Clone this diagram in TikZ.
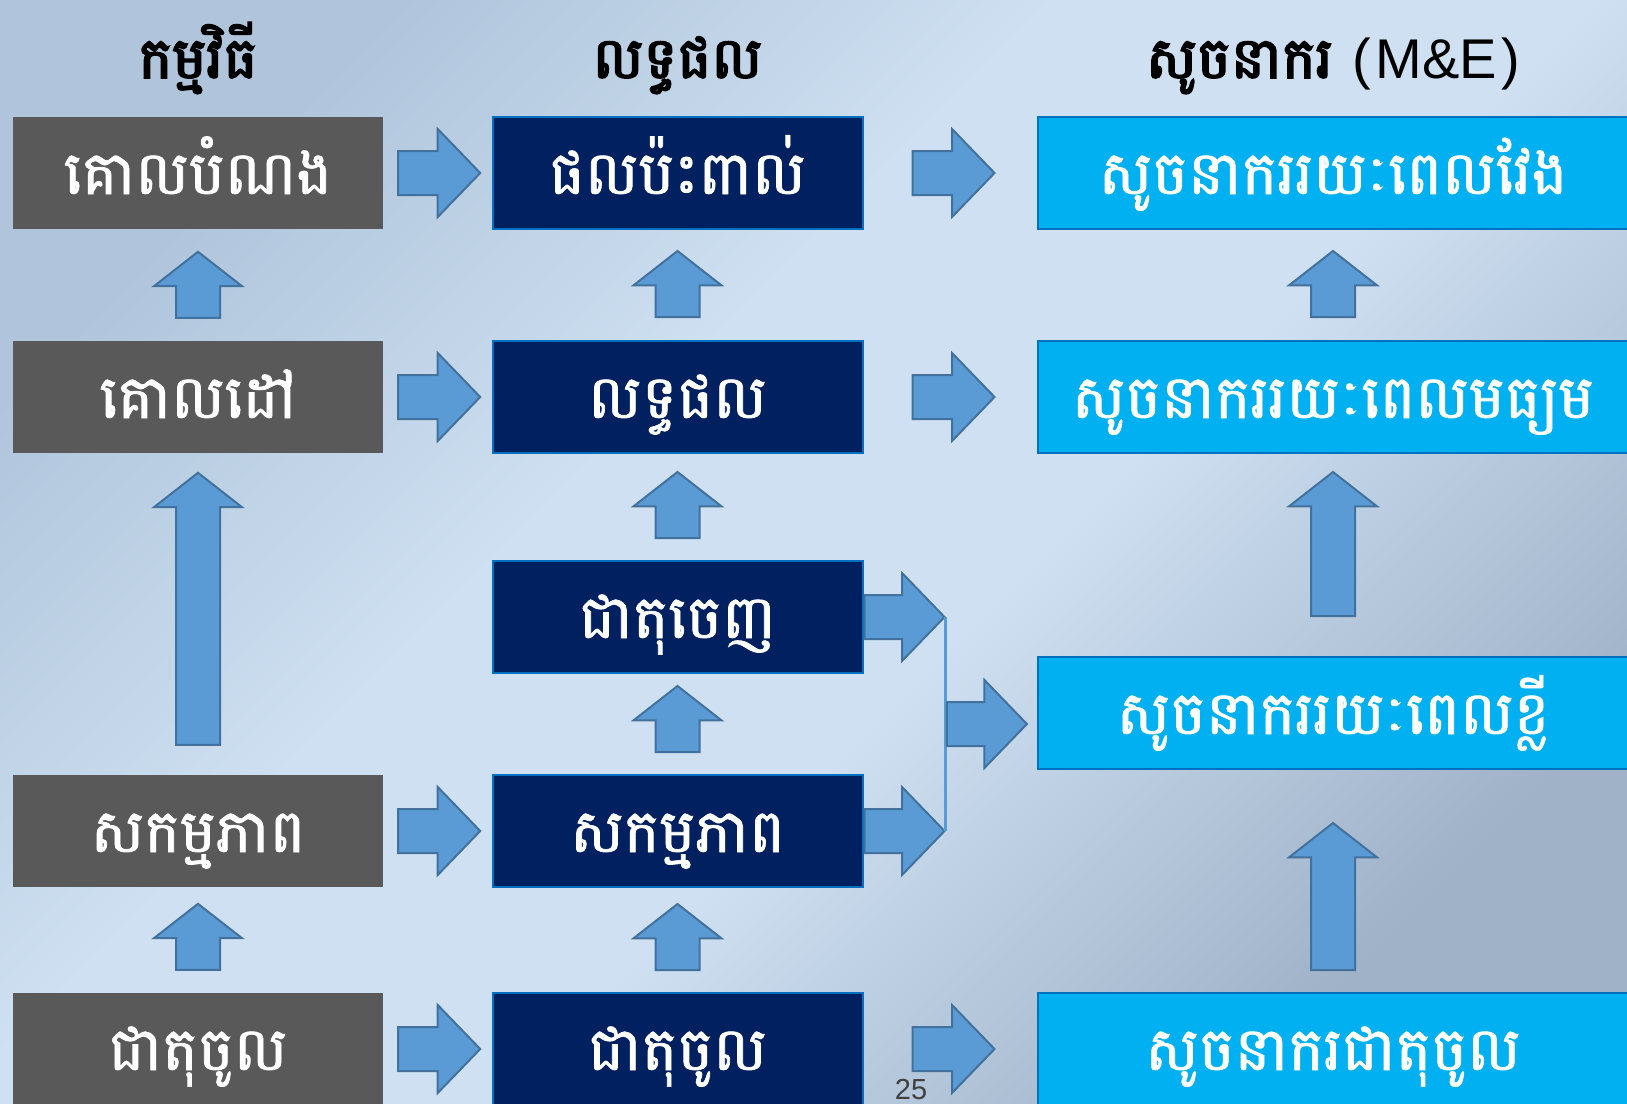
\documentclass[tikz,border=0pt]{standalone}
\usepackage{fontspec}
\setmainfont{Liberation Sans}
\newfontfamily\khmer[Script=Khmer, FakeBold=1.2]{Battambang}
\newfontfamily\khmerhead[Script=Khmer, FakeBold=3]{Battambang}
\usetikzlibrary{shapes.arrows,calc}
\definecolor{boxgray}{HTML}{595959}
\definecolor{boxnavy}{HTML}{002060}
\definecolor{boxcyan}{HTML}{00B0F0}
\definecolor{edgeblue}{HTML}{0070C0}
\definecolor{arrfill}{HTML}{5B9BD5}
\definecolor{arredge}{HTML}{41719C}
\definecolor{bgtop}{HTML}{B0C5DC}
\definecolor{bgmid}{HTML}{CEE0F1}
\definecolor{bgbot}{HTML}{9FB2C8}
\definecolor{pagegray}{HTML}{404040}
\pgfdeclareverticalshading{slidebg}{100bp}{color(0bp)=(bgbot); color(25bp)=(bgbot);
  color(44bp)=(bgmid); color(58bp)=(bgmid); color(75bp)=(bgtop); color(100bp)=(bgtop)}

\tikzset{
  box/.style={minimum width=370pt, minimum height=112pt, inner sep=0pt, text=white,
    font=\khmer\fontsize{60}{70}\selectfont, text height=50pt, text depth=8pt},
  progbox/.style={box, fill=boxgray},
  resbox/.style={box, fill=boxnavy, draw=edgeblue, line width=2pt},
  indbox/.style={box, fill=boxcyan, draw=edgeblue, line width=2pt, minimum width=590pt},
  head/.style={anchor=base, inner sep=0pt, font=\khmerhead\fontsize{57}{66}\selectfont},
  rarr/.style={single arrow, fill=arrfill, draw=arredge, line width=2pt,
    inner xsep=0pt, inner ysep=21pt, minimum width=86pt, anchor=tail,
    single arrow head extend=22pt, single arrow tip angle=92, minimum height=82pt},
  uarr/.style={rarr, rotate=90, single arrow tip angle=104, minimum height=66pt},
}

\begin{document}
\begin{tikzpicture}[x=1pt, y=-1pt]
  \useasboundingbox (0,0) rectangle (1627,1103);
  \clip (0,0) rectangle (1627,1103);
  \shade[shading=slidebg, shading angle=45] (0,0) rectangle (1627,1103);

  % column heads
  \node[head] (hprog) at (198,78) {កម្មវិធី};
  \node[head] (hres) at (677.5,78) {លទ្ធផល};
  \node[head] (hind) at (1333,78) {សូចនាករ {\normalfont\fontsize{56}{66}\selectfont(\kern0.08em M\&E\kern0.08em)}};

  % programme
  \node[progbox] (goal) at (198,173) {គោលបំណង};
  \node[progbox] (purpose) at (198,397) {គោលដៅ};
  \node[progbox] (act1) at (198,831) {សកម្មភាព};
  \node[progbox] (in1) at (198,1049) {ជាតុចូល};

  % results
  \node[resbox] (impact) at (677.5,173) {ផលប៉ះពាល់};
  \node[resbox] (outcome) at (677.5,397) {លទ្ធផល};
  \node[resbox] (output) at (677.5,617) {ជាតុចេញ};
  \node[resbox] (act2) at (677.5,831) {សកម្មភាព};
  \node[resbox] (in2) at (677.5,1049) {ជាតុចូល};

  % indicators
  \node[indbox] (indlong) at (1333,173) {សូចនាកររយៈពេលវែង};
  \node[indbox] (indmid) at (1333,397) {សូចនាកររយៈពេលមធ្យម};
  \node[indbox] (indshort) at (1333,713) {សូចនាកររយៈពេលខ្លី};
  \node[indbox] (indin) at (1333,1049) {សូចនាករជាតុចូល};

  % arrows across
  \node[rarr] at ([xshift=14pt]goal.east) {};
  \node[rarr] at ([xshift=14pt]purpose.east) {};
  \node[rarr] at ([xshift=14pt]act1.east) {};
  \node[rarr] at ([xshift=14pt]in1.east) {};
  \node[rarr] at ([xshift=48pt]impact.east) {};
  \node[rarr] at ([xshift=48pt]outcome.east) {};
  \node[rarr] at ([xshift=48pt]in2.east) {};

  % arrows up
  \node[uarr] at ([yshift=22pt]purpose.north) {};
  \node[uarr, minimum height=272pt] at ([yshift=29pt]act1.north) {};
  \node[uarr] at ([yshift=22pt]in1.north) {};
  \node[uarr] at ([yshift=22pt]outcome.north) {};
  \node[uarr] at ([yshift=21pt]output.north) {};
  \node[uarr] at ([yshift=21pt]act2.north) {};
  \node[uarr] at ([yshift=21pt]in2.north) {};
  \node[uarr] at ([yshift=22pt]indmid.north) {};
  \node[uarr, minimum height=144pt] at ([yshift=39pt]indshort.north) {};
  \node[uarr, minimum height=147pt] at ([yshift=21pt]indin.north) {};

  % outputs and activities into short term
  \node[rarr, minimum height=80pt] (outarr) at (output.east) {};
  \node[rarr, minimum height=80pt] (actarr) at (act2.east) {};
  \draw[arrfill, line width=3pt] (outarr.tip) -- (actarr.tip);
  \node[rarr, minimum height=80pt] (mrgarr) at ($(outarr.tip)!0.5!(actarr.tip)$) {};

  \node[anchor=base, inner sep=0pt, text=pagegray, font=\fontsize{29}{34}\selectfont] (pgno) at (911,1099) {25};
\end{tikzpicture}
\end{document}
